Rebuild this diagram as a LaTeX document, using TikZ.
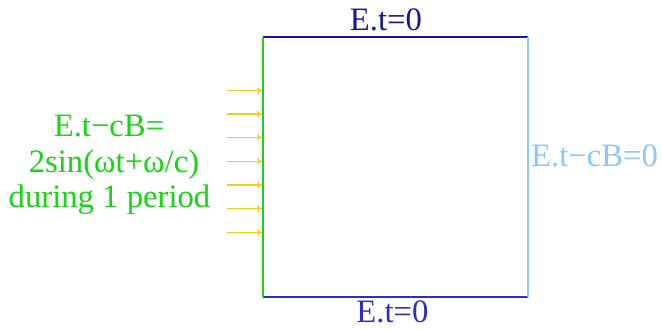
\documentclass[tikz,border=0pt]{standalone}
\usepackage{fontspec}
\setmainfont{Liberation Serif}
\usetikzlibrary{arrows.meta}
\definecolor{dblue}{RGB}{20,20,165}
\definecolor{mblue}{RGB}{45,45,200}
\definecolor{lblue}{RGB}{140,200,250}
\definecolor{bgreen}{RGB}{20,215,20}
\definecolor{gold}{RGB}{245,205,30}
\tikzset{
  lbl/.style={anchor=base, inner sep=0pt, font=\fontsize{32.7}{39}\selectfont},
  inarrow/.style={draw=gold, line width=1.2pt, -{To[length=5pt,width=6pt]}},
  edge/.style={line width=1.2pt}
}
\begin{document}
\begin{tikzpicture}[x=1pt,y=-1pt]
\useasboundingbox (0,0) rectangle (662,329);
\coordinate (tl) at (263,37);
\coordinate (tr) at (528,37);
\coordinate (bl) at (263,297);
\coordinate (br) at (528,297);
\draw[edge, draw=dblue] (tl) -- (tr);
\draw[edge, draw=mblue] (bl) -- (br);
\draw[edge, draw=lblue] (tr) -- (br);
\draw[edge, draw=bgreen] (tl) -- (bl);
\foreach \i/\y in {1/90.7,2/114,3/137.5,4/161.2,5/185,6/208.7,7/232.5}{
  \coordinate (s\i) at (227,\y);
  \coordinate (e\i) at (262,\y);
  \draw[inarrow] (s\i) -- (e\i);
}
\node[lbl, text=dblue] (top) at (386,31) {E.t=0};
\node[lbl, text=mblue] (bot) at (392.5,322) {E.t=0};
\node[lbl, text=lblue] (right) at (594.5,166.5) {E.t−cB=0};
\node[lbl, text=bgreen] (g1) at (109,136.5) {E.t−cB=};
\node[lbl, text=bgreen] (g2) at (114,172) {2sin(ωt+ω/c)};
\node[lbl, text=bgreen] (g3) at (109.5,207) {during 1 period};
\end{tikzpicture}
\end{document}
